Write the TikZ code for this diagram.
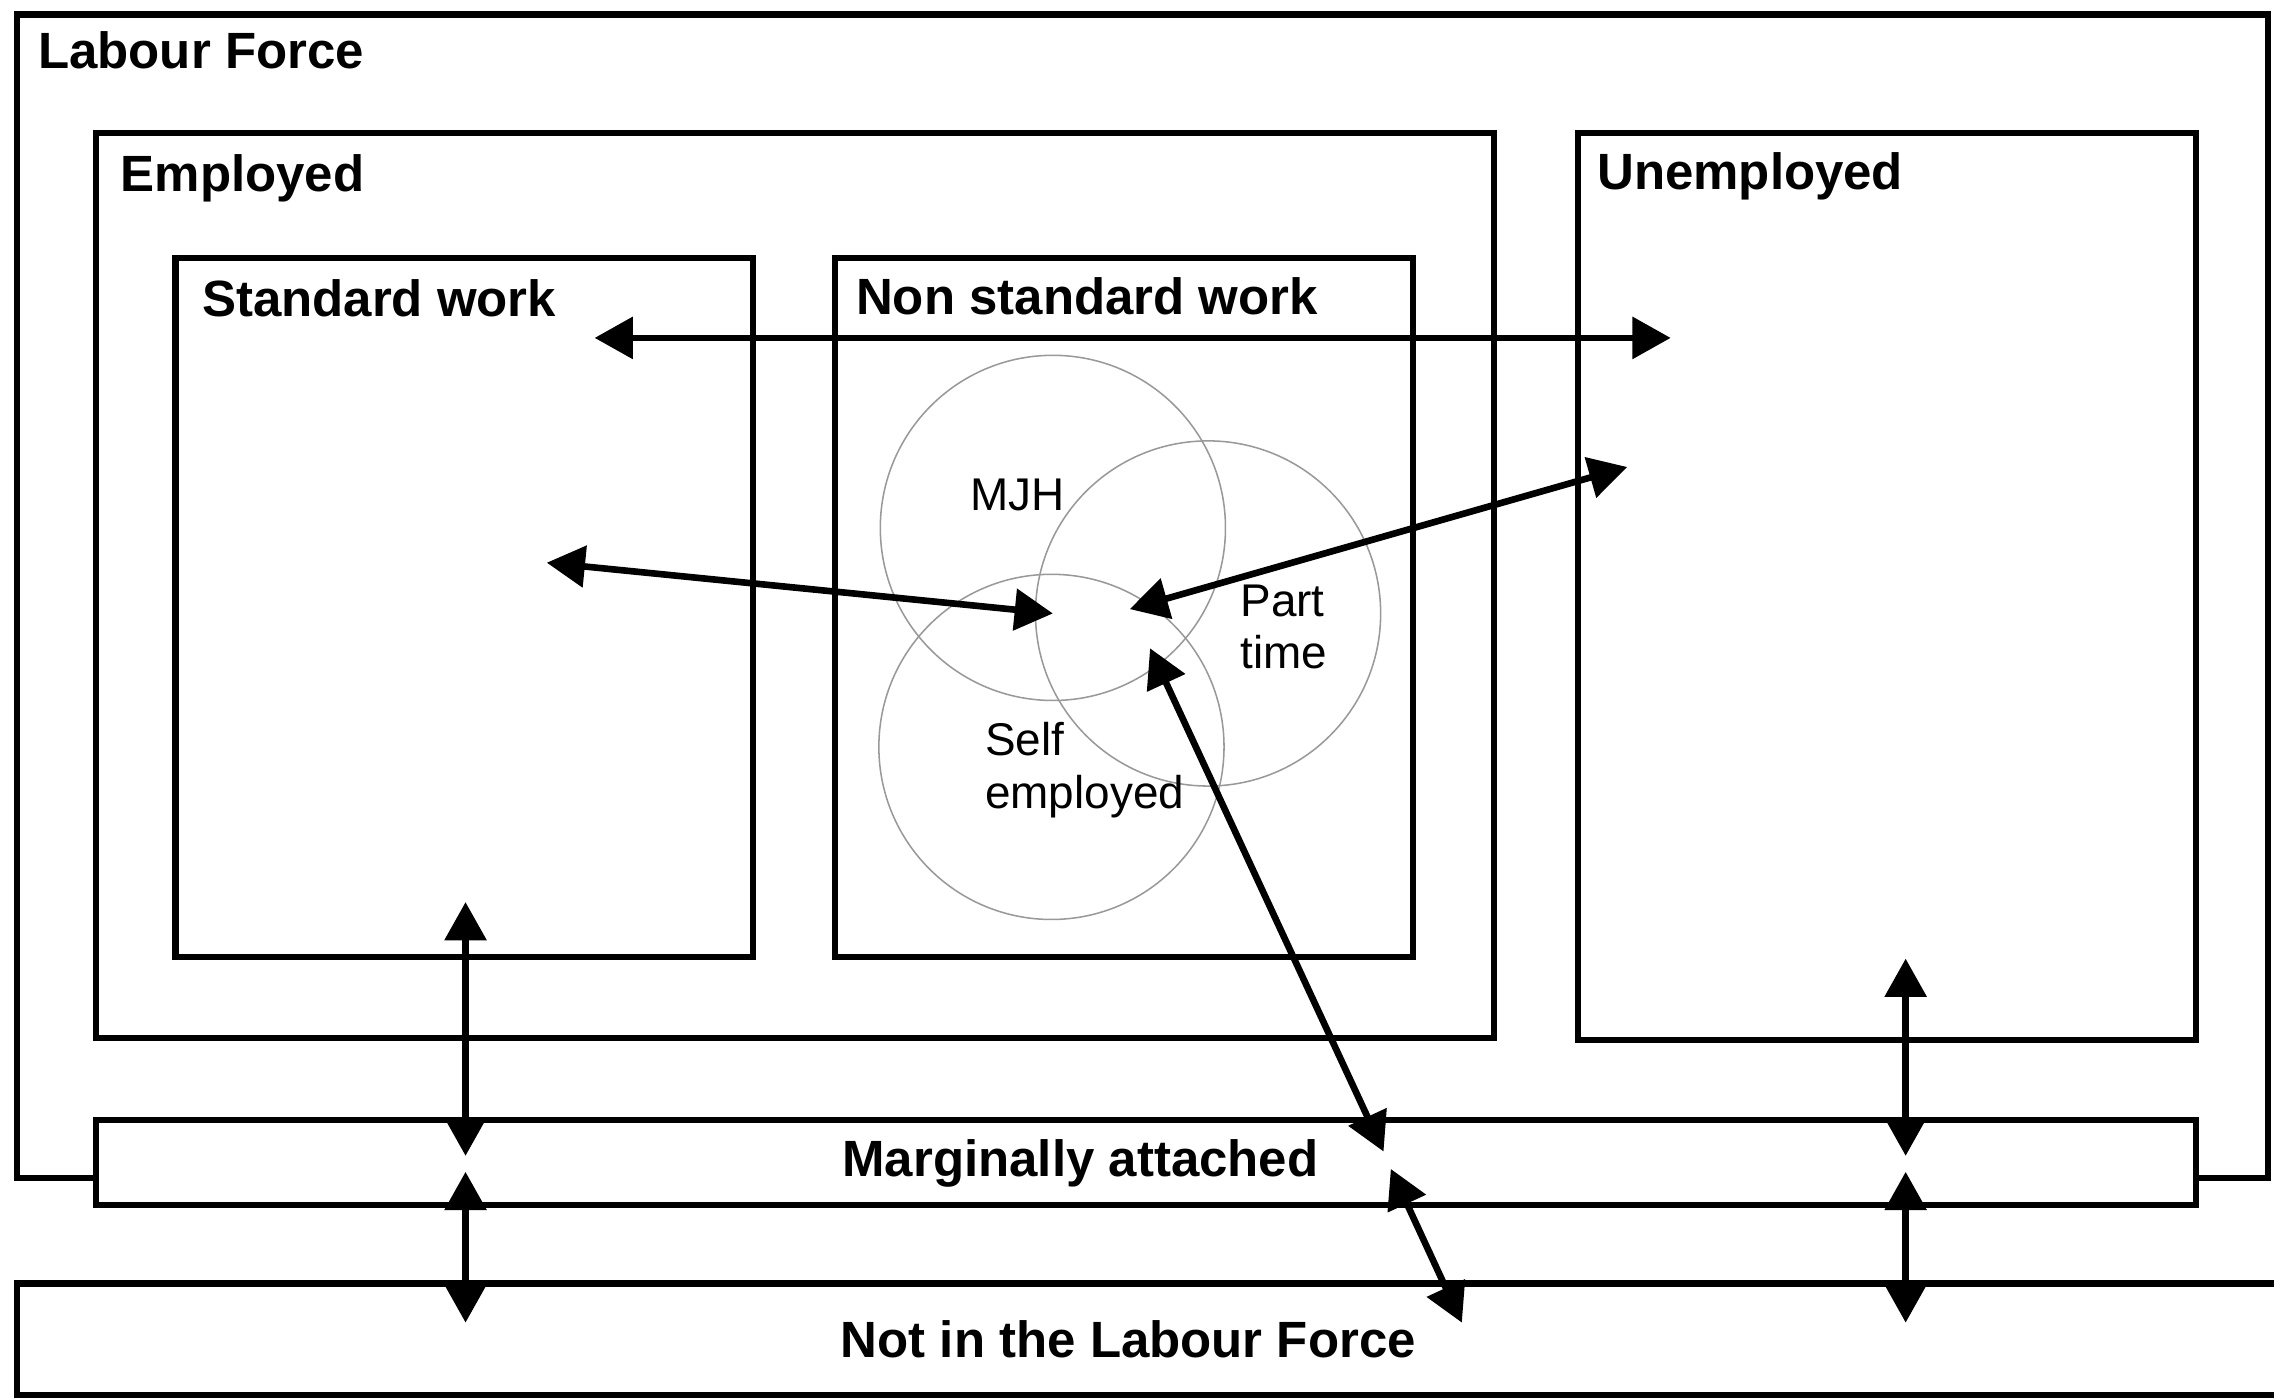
\documentclass[tikz,border=0pt]{standalone}
\usepackage{fontspec}
\setmainfont{Liberation Sans}
\usepackage{tikz}
\usetikzlibrary{arrows.meta, positioning, fit}

\tikzset{
  area/.style={draw, line width=2.4pt, fill=white, inner sep=0pt},
  ring/.style={circle, draw=black!40, line width=0.6pt, inner sep=0pt, minimum size=47.6mm},
  head/.style={font=\fontsize{20}{24}\selectfont\bfseries, inner sep=0pt},
  tag/.style={font=\fontsize{18}{20.5}\selectfont, inner sep=0pt, align=left},
  flow/.style={line width=2.6pt, {Triangle[length=15pt,width=16pt]}-{Triangle[length=15pt,width=16pt]}},
}

\begin{document}
\begin{tikzpicture}[x=0.2mm, y=-0.2mm]
\useasboundingbox (0,0) rectangle (1568,964);
\clip (0,0) rectangle (1568,964);

% Boxes
\node[area, fit={(12,10) (1564,812)}] (labour) {};
\node[area, fit={(66,92) (1030,716)}] (employed) {};
\node[area, fit={(1088,92) (1514,717)}] (unemployed) {};
\node[area, fit={(121,178) (519,660)}] (standard) {};
\node[area, fit={(576,178) (974,660)}] (nonstd) {};
\node[area, fit={(66,772) (1514,831)}] (marginal) {};
\node[area, fit={(12,885) (1600,962)}] (notlf) {};

% Box titles
\node[head, anchor=base west] (labour-lbl) at (26,47) {Labour Force};
\node[head, anchor=base west] (employed-lbl) at (83,132) {Employed};
\node[head, anchor=base west] (unemployed-lbl) at (1101,131) {Unemployed};
\node[head, anchor=base west] (standard-lbl) at (139,218) {Standard work};
\node[head, anchor=base west] (nonstd-lbl) at (590,217) {Non standard work};
\node[head, anchor=base] (marginal-lbl) at (745,811) {Marginally attached};
\node[head, anchor=base] (notlf-lbl) at (778,936) {Not in the Labour Force};

% Overlapping kinds of non standard work
\node[ring] (mjh) at (726,364) {};
\node[ring] (part) at (833,423) {};
\node[ring] (self) at (725,515) {};
\node[tag, anchor=base west] (mjh-lbl) at (669,352) {MJH};
\node[tag, anchor=north west] (part-lbl) at (855,403) {Part\\time};
\node[tag, anchor=north west] (self-lbl) at (679,498) {Self\\employed};

% Flow end points
\coordinate (std-top) at (410,233);
\coordinate (unemp-top) at (1152,233);
\coordinate (std-mid) at (377,388);
\coordinate (core-w) at (726,423);
\coordinate (core-e) at (779,420);
\coordinate (unemp-mid) at (1122,322);
\coordinate (core-s) at (793,447);
\coordinate (marg-in) at (954,794);
\coordinate (marg-out) at (959,806);
\coordinate (notlf-in) at (1008,912);

% Flows
\draw[flow] (std-top) -- (unemp-top);
\draw[flow] (std-mid) -- (core-w);
\draw[flow] (core-e) -- (unemp-mid);
\draw[flow] (core-s) -- (marg-in);
\draw[flow] (marg-out) -- (notlf-in);
\foreach \n/\x/\t in {std/321/622, unemp/1314/661} {
  \coordinate (\n-a) at (\x,\t);
  \coordinate (\n-b) at (\x,797);
  \coordinate (\n-c) at (\x,808);
  \coordinate (\n-d) at (\x,912);
  \draw[flow] (\n-a) -- (\n-b);
  \draw[flow] (\n-c) -- (\n-d);
}

\end{tikzpicture}
\end{document}
